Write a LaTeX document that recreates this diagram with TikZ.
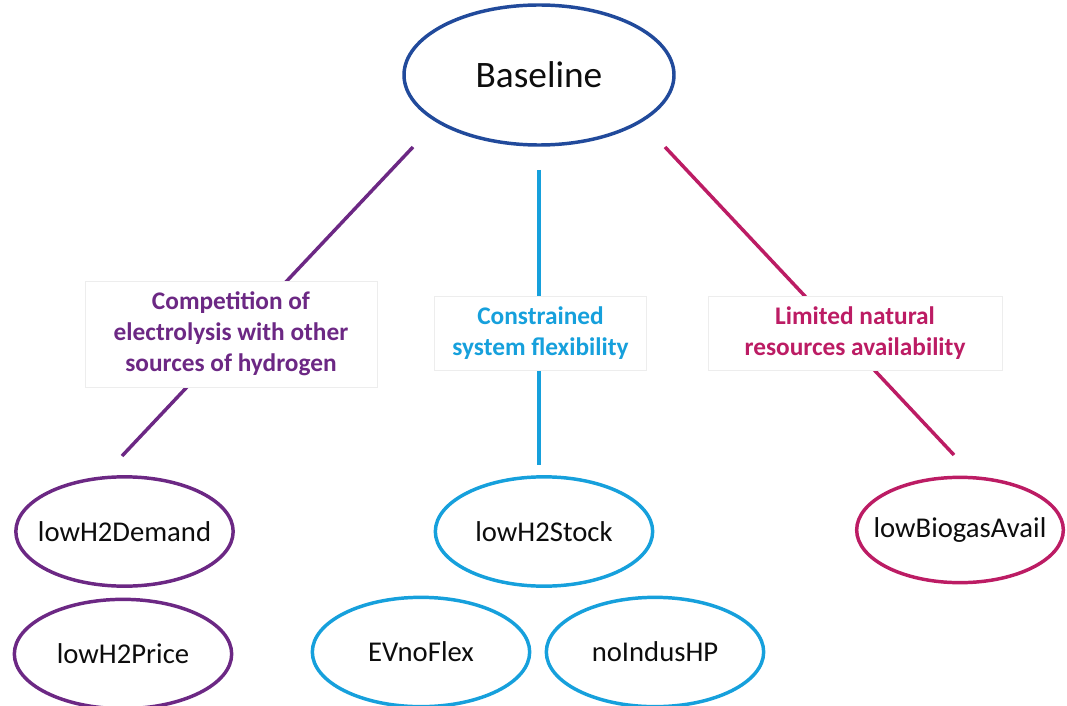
\documentclass[tikz,border=0pt]{standalone}
\usepackage{fontspec}
\setmainfont{Carlito}
\usetikzlibrary{shapes.geometric}
\definecolor{cpurple}{RGB}{108,40,132}
\definecolor{ccyan}{RGB}{22,160,220}
\definecolor{cmag}{RGB}{188,28,100}
\definecolor{cnavy}{RGB}{33,74,155}
\definecolor{ctext}{RGB}{13,13,13}
\newcommand{\zw}[1]{\makebox[0pt]{#1}}
\tikzset{
  oval/.style={ellipse, draw, line width=2.6pt, fill=white, inner sep=0pt,
    minimum width=163pt, minimum height=82pt, text=ctext,
    font=\fontsize{21.5}{24}\selectfont},
  lbl/.style={rectangle, draw=black!7, line width=0.6pt, fill=white, inner sep=0pt,
    align=center, font=\fontsize{19}{23.3}\selectfont\bfseries},
  link/.style={line width=2.6pt},
}
\begin{document}
\begin{tikzpicture}[x=0.75pt,y=-0.75pt]
\useasboundingbox (0,0) rectangle (1067,706);
\clip (0,0) rectangle (1067,706);
% connectors
\coordinate (l1) at (413,147); \coordinate (l2) at (122,456);
\coordinate (c1) at (539,170); \coordinate (c2) at (539,465);
\coordinate (r1) at (665,147); \coordinate (r2) at (954,455);
\draw[link, cpurple] (l1) -- (l2);
\draw[link, ccyan] (c1) -- (c2);
\draw[link, cmag] (r1) -- (r2);
% top
\node[oval, draw=cnavy, minimum width=202.5pt, minimum height=105pt,
  font=\fontsize{28}{30}\selectfont] (base) at (539,75) {\zw{Baseline}};
% labels
\node[lbl, text=cpurple, minimum width=219pt, minimum height=79.5pt] (lab1) at (231,334)
  {Competition of\\electrolysis with other\\sources of hydrogen};
\node[lbl, text=ccyan, minimum width=159pt, minimum height=56pt] (lab2) at (540.5,333.5)
  {Constrained\\system flexibility};
\node[lbl, text=cmag, minimum width=220.5pt, minimum height=55pt] (lab3) at (855,333.5)
  {Limited natural\\resources availability};
% bottom ellipses
\node[oval, draw=cpurple] (dem) at (124.5,531.5) {\zw{lowH2Demand}};
\node[oval, draw=cpurple] (price) at (123,654) {\zw{lowH2Price}};
\node[oval, draw=ccyan] (stock) at (544,531.5) {\zw{lowH2Stock}};
\node[oval, draw=ccyan] (ev) at (421,652) {\zw{EVnoFlex}};
\node[oval, draw=ccyan] (hp) at (655,652) {\zw{noIndusHP}};
\node[oval, draw=cmag, minimum width=155pt, minimum height=79pt] (bio) at (960,530) {\zw{lowBiogasAvail}};
\end{tikzpicture}
\end{document}
